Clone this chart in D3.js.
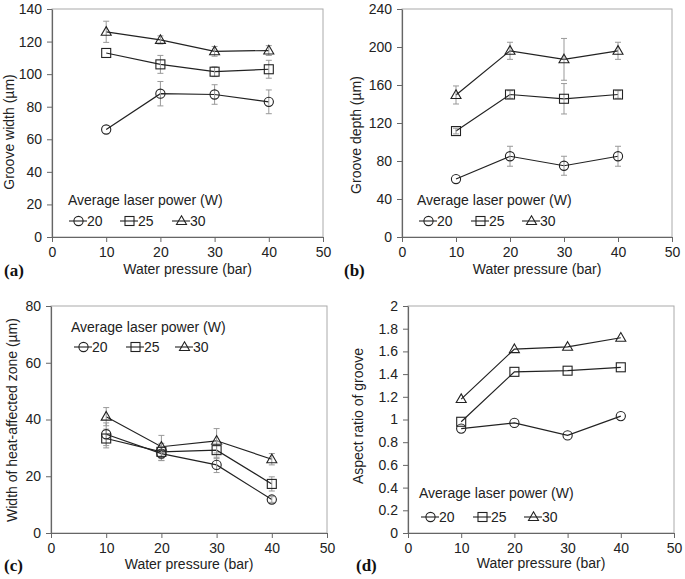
<!DOCTYPE html>
<html>
<head>
<meta charset="utf-8">
<script src="https://cdn.jsdelivr.net/npm/d3@7"></script>
<style>
  html, body { margin: 0; padding: 0; background: #fff; }
  svg text { font-family: "Liberation Sans", Arial, sans-serif; fill: #222; }
</style>
</head>
<body>
<svg id="chart" width="685" height="579"></svg>
<script>
// ---------- DATA ----------
const pressures = [10, 20, 30, 40];
const powerLabels = ["20", "25", "30"];
const legendTitle = "Average laser power (W)";
const xTitle = "Water pressure (bar)";
const xTicks = [0, 10, 20, 30, 40, 50];

// (a) Groove width (µm)
const widthP20 = [66, 88, 87.5, 83];
const widthP25 = [113, 106, 101.5, 103];
const widthP30 = [126, 121, 114, 114.5];
const widthErrP20 = [0, 7.5, 6, 7.3];
const widthErrP25 = [0, 5.5, 3, 5.5];
const widthErrP30 = [6.5, 2.5, 3, 3];
const widthTicks = [0, 20, 40, 60, 80, 100, 120, 140];

// (b) Groove depth (µm)
const depthP20 = [61, 85, 75, 85];
const depthP25 = [111.5, 150, 145.5, 150];
const depthP30 = [149.5, 196, 187, 196];
const depthErrP20 = [0, 10.5, 10, 10.5];
const depthErrP25 = [3, 4, 16, 4];
const depthErrP30 = [9.5, 9, 22, 9];
const depthTicks = [0, 40, 80, 120, 160, 200, 240];

// (c) Width of heat-affected zone (µm)
const hazP20 = [34.8, 28, 24, 11.8];
const hazP25 = [33.3, 28.6, 29.2, 17.3];
const hazP30 = [41, 30.4, 32.5, 26];
const hazErrP20 = [4, 2.5, 2.7, 1];
const hazErrP25 = [3.3, 3, 3, 2.5];
const hazErrP30 = [3.2, 4, 4.3, 2];
const hazTicks = [0, 20, 40, 60, 80];

// (d) Aspect ratio of groove
const ratioP20 = [0.92, 0.97, 0.86, 1.03];
const ratioP25 = [0.98, 1.42, 1.43, 1.46];
const ratioP30 = [1.18, 1.62, 1.64, 1.72];
const ratioTicks = [0, 0.2, 0.4, 0.6, 0.8, 1, 1.2, 1.4, 1.6, 1.8, 2];

// ---------- LAYOUT ----------
const panels = [
  { label: "(a)", yTitle: "Groove width (µm)", ticks: widthTicks,
    series: [widthP20, widthP25, widthP30], errs: [widthErrP20, widthErrP25, widthErrP30],
    box: { l: 52, r: 323, t: 9, b: 237 }, yTitlePos: [14, 132],
    legend: { x: 68, ty: 205, ry: 221, items: [69, 120, 172] },
    labelPos: [4, 276], xTitleY: 274 },
  { label: "(b)", yTitle: "Groove depth (µm)", ticks: depthTicks,
    series: [depthP20, depthP25, depthP30], errs: [depthErrP20, depthErrP25, depthErrP30],
    box: { l: 402, r: 672, t: 9, b: 237 }, yTitlePos: [361, 135],
    legend: { x: 417, ty: 205, ry: 221, items: [419, 471, 522] },
    labelPos: [344, 276], xTitleY: 274 },
  { label: "(c)", yTitle: "Width of heat-affected zone (µm)", ticks: hazTicks,
    series: [hazP20, hazP25, hazP30], errs: [hazErrP20, hazErrP25, hazErrP30],
    box: { l: 51, r: 327, t: 306, b: 533 }, yTitlePos: [17, 420],
    legend: { x: 71, ty: 332, ry: 347, items: [74, 126, 175] },
    labelPos: [4, 571], xTitleY: 569 },
  { label: "(d)", yTitle: "Aspect ratio of groove", ticks: ratioTicks,
    series: [ratioP20, ratioP25, ratioP30], errs: null,
    box: { l: 408, r: 674, t: 306, b: 533 }, yTitlePos: [363, 416],
    legend: { x: 419, ty: 498, ry: 517, items: [421, 473, 524] },
    labelPos: [356, 571], xTitleY: 568 }
];

const svg = d3.select("#chart");
const lineColor = "#222";
const errColor = "#999";
const axisColor = "#666";

function drawMarker(g, kind, x, y) {
  if (kind === 0) {
    g.append("circle").attr("cx", x).attr("cy", y).attr("r", 4.6)
      .attr("fill", "none").attr("stroke", lineColor).attr("stroke-width", 1.1);
  } else if (kind === 1) {
    g.append("rect").attr("x", x - 4.5).attr("y", y - 4.5).attr("width", 9).attr("height", 9)
      .attr("fill", "none").attr("stroke", lineColor).attr("stroke-width", 1.1);
  } else {
    const s = 10, h = s * 0.866;
    g.append("path")
      .attr("d", `M${x},${y - h * 0.6}L${x + s / 2},${y + h * 0.4}L${x - s / 2},${y + h * 0.4}Z`)
      .attr("fill", "none").attr("stroke", lineColor).attr("stroke-width", 1.1);
  }
}

panels.forEach(p => {
  const g = svg.append("g");
  const x = d3.scaleLinear().domain([0, 50]).range([p.box.l, p.box.r]);
  const yMax = p.ticks[p.ticks.length - 1];
  const y = d3.scaleLinear().domain([0, yMax]).range([p.box.b, p.box.t]);

  // light frame (top/right)
  g.append("rect").attr("x", p.box.l).attr("y", p.box.t)
    .attr("width", p.box.r - p.box.l).attr("height", p.box.b - p.box.t)
    .attr("fill", "none").attr("stroke", "#aaa").attr("stroke-width", 1);

  // axes
  const fmt = v => String(Math.round(v * 10) / 10);
  const yAxis = g.append("g").attr("transform", `translate(${p.box.l},0)`)
    .call(d3.axisLeft(y).tickValues(p.ticks).tickFormat(fmt).tickSize(5).tickPadding(5).tickSizeOuter(0));
  const xAxis = g.append("g").attr("transform", `translate(0,${p.box.b})`)
    .call(d3.axisBottom(x).tickValues(xTicks).tickFormat(fmt).tickSize(5).tickPadding(5).tickSizeOuter(0));
  [yAxis, xAxis].forEach(a => {
    a.select(".domain").attr("stroke", axisColor).attr("stroke-width", 1.2);
    a.selectAll(".tick line").attr("stroke", axisColor);
    a.selectAll(".tick text").attr("font-size", 14).attr("fill", "#222")
      .attr("font-family", "'Liberation Sans', Arial, sans-serif");
  });

  // titles
  g.append("text").attr("transform", `translate(${p.yTitlePos[0]},${p.yTitlePos[1]}) rotate(-90)`)
    .attr("text-anchor", "middle").attr("font-size", 14).text(p.yTitle);
  g.append("text").attr("x", (p.box.l + p.box.r) / 2).attr("y", p.xTitleY)
    .attr("text-anchor", "middle").attr("font-size", 14).text(xTitle);
  g.append("text").attr("x", p.labelPos[0]).attr("y", p.labelPos[1])
    .style("font-family", "'Liberation Serif', 'Times New Roman', serif")
    .style("font-weight", "bold").style("font-size", "17px").style("fill", "#111").text(p.label);

  // series
  const line = d3.line().x((d, i) => x(pressures[i])).y(d => y(d));
  p.series.forEach((vals, si) => {
    g.append("path").datum(vals).attr("d", line)
      .attr("fill", "none").attr("stroke", lineColor).attr("stroke-width", 1.2);
  });
  if (p.errs) {
    p.series.forEach((vals, si) => {
      vals.forEach((v, i) => {
        const e = p.errs[si][i];
        if (!e) return;
        const cx = x(pressures[i]), y1 = y(v + e), y2 = y(v - e);
        g.append("line").attr("x1", cx).attr("x2", cx).attr("y1", y1).attr("y2", y2)
          .attr("stroke", errColor).attr("stroke-width", 1);
        [y1, y2].forEach(yy => g.append("line").attr("x1", cx - 3).attr("x2", cx + 3)
          .attr("y1", yy).attr("y2", yy).attr("stroke", errColor).attr("stroke-width", 1));
      });
    });
  }
  p.series.forEach((vals, si) => {
    vals.forEach((v, i) => drawMarker(g, si, x(pressures[i]), y(v)));
  });

  // legend
  g.append("text").attr("x", p.legend.x).attr("y", p.legend.ty)
    .attr("font-size", 14).text(legendTitle);
  powerLabels.forEach((lab, si) => {
    const x0 = p.legend.items[si], yy = p.legend.ry;
    g.append("line").attr("x1", x0).attr("x2", x0 + 18).attr("y1", yy).attr("y2", yy)
      .attr("stroke", lineColor).attr("stroke-width", 1.1);
    drawMarker(g, si, x0 + 9.5, yy);
    g.append("text").attr("x", x0 + 18).attr("y", yy + 5).attr("font-size", 14).text(lab);
  });
});
</script>
</body>
</html>
